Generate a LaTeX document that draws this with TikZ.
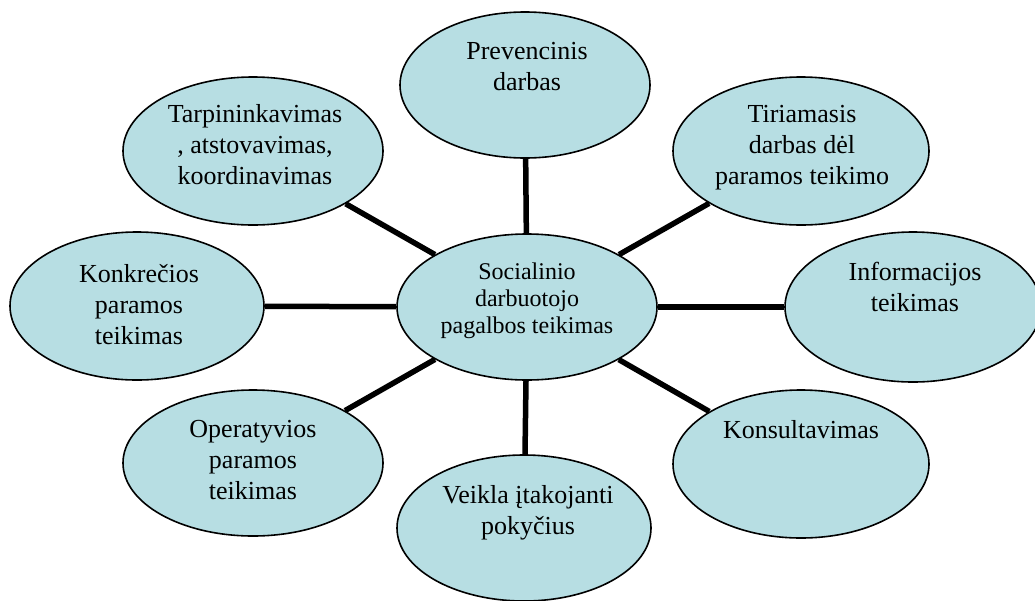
\documentclass[tikz,border=0pt]{standalone}
\usepackage{fontspec}
\setmainfont{Liberation Serif}
\usetikzlibrary{shapes.geometric}
\definecolor{bubblefill}{HTML}{B7DEE3}
\begin{document}
\begin{tikzpicture}[x=1pt,y=-1pt,
  bubble/.style={ellipse, draw=black, line width=1.6pt, fill=bubblefill, inner sep=0pt},
  btext/.style={font=\fontsize{26}{31}\selectfont, align=center, inner sep=0pt, anchor=north},
  hubtext/.style={font=\fontsize{24}{27}\selectfont, align=center, inner sep=0pt, anchor=north},
  spoke/.style={line width=5.5pt}]
\useasboundingbox (0,0) rectangle (1035,600);

% central ellipse
\node[bubble, minimum width=260pt, minimum height=146pt] (hub) at (527,307) {};

% surrounding ellipses
\node[bubble, minimum width=250pt, minimum height=146pt] (prev) at (525,85) {};
\node[bubble, minimum width=256pt, minimum height=148pt] (tiri) at (801,151) {};
\node[bubble, minimum width=256pt, minimum height=150pt] (info) at (913,307) {};
\node[bubble, minimum width=256pt, minimum height=148pt] (kons) at (801,464) {};
\node[bubble, minimum width=254pt, minimum height=146pt] (veik) at (524,528) {};
\node[bubble, minimum width=260pt, minimum height=146pt] (oper) at (253,463) {};
\node[bubble, minimum width=254pt, minimum height=148pt] (konk) at (137,306) {};
\node[bubble, minimum width=260pt, minimum height=148pt] (tarp) at (253,151) {};

% spokes from the hub
\foreach \n in {prev,tiri,info,kons,veik,oper,konk,tarp}
  \draw[spoke] (hub) -- (\n);

% texts
\node[hubtext] (hubt) at (527,263) {Socialinio\\darbuotojo\\pagalbos teikimas};
\node[btext] (prevt) at (527,42) {Prevencinis\\darbas};
\node[btext] (tirit) at (802,105) {Tiriamasis\\darbas dėl\\paramos teikimo};
\node[btext] (infot) at (915,262) {Informacijos\\teikimas};
\node[btext] (konst) at (801,420) {Konsultavimas};
\node[btext] (veikt) at (528,485) {Veikla įtakojanti\\pokyčius};
\node[btext] (opert) at (253,420) {Operatyvios\\paramos\\teikimas};
\node[btext] (konkt) at (139,264) {Konkrečios\\paramos\\teikimas};
\node[btext] (tarpt) at (255,104) {Tarpininkavimas\\, atstovavimas,\\koordinavimas};
\end{tikzpicture}
\end{document}
